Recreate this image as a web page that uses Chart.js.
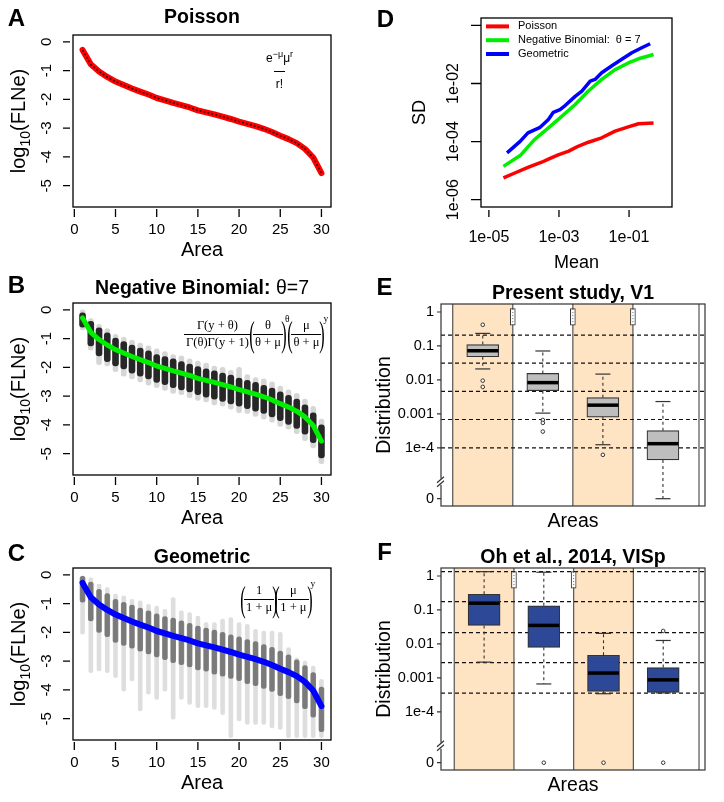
<!DOCTYPE html>
<html lang="en">
<head>
<meta charset="utf-8">
<title>FLNe distributions</title>
<script src="https://cdn.jsdelivr.net/npm/chart.js@4.4.1/dist/chart.umd.min.js"></script>
<style>
    html, body { margin: 0; padding: 0; background: #fff; }
    #figure { position: relative; width: 724px; height: 802px; overflow: hidden; }
    #figure canvas { position: absolute; }
    .formula { position: absolute; color: #000; white-space: nowrap; display: flex; align-items: center; }
    .sans { font-family: "Liberation Sans", Arial, sans-serif; }
    .serif { font-family: "Liberation Serif", "Times New Roman", serif; }
    .frac { display: inline-flex; flex-direction: column; align-items: center; }
    .frac > span { padding: 0 2px; line-height: 1.25; }
    .frac > span + span { border-top: 1px solid #000; }
    .paren { display: inline-block; font-size: 36px; line-height: 1; transform: scaleX(0.45); margin: 0 -5px; }
    .formula sup { align-self: flex-start; font-size: 9.5px; margin-top: -2px; }
</style>
</head>
<body>
<div id="figure">
    <canvas id="poissonChart" width="362" height="268" style="left:0;top:0"></canvas>
    <canvas id="negbinChart" width="362" height="265" style="left:0;top:268px"></canvas>
    <canvas id="geomChart" width="362" height="269" style="left:0;top:533px"></canvas>
    <canvas id="sdChart" width="362" height="268" style="left:362px;top:0"></canvas>
    <canvas id="v1Chart" width="362" height="265" style="left:362px;top:268px"></canvas>
    <canvas id="ohChart" width="362" height="269" style="left:362px;top:533px"></canvas>

    <div class="formula sans" style="left:264px;top:49px;font-size:12px">
        <span class="frac" style="min-width:31px"><span style="padding-bottom:5px">e<sup style="font-size:9px">−μ</sup>μ<sup style="font-size:9px">r</sup></span><span style="padding-top:5px">r!</span></span>
    </div>
    <div class="formula serif" style="left:184px;top:316px;font-size:12.5px">
        <span class="frac"><span>Γ(y + θ)</span><span>Γ(θ)Γ(y + 1)</span></span>
        <span class="paren">(</span><span class="frac"><span>θ</span><span>θ + μ</span></span><span class="paren">)</span><sup>θ</sup>
        <span class="paren">(</span><span class="frac"><span>μ</span><span>θ + μ</span></span><span class="paren">)</span><sup>y</sup>
    </div>
    <div class="formula serif" style="left:242px;top:581px;font-size:12.5px">
        <span class="paren">(</span><span class="frac"><span>1</span><span>1 + μ</span></span><span class="paren">)</span>
        <span class="paren">(</span><span class="frac"><span>μ</span><span>1 + μ</span></span><span class="paren">)</span><sup>y</sup>
    </div>
</div>
<script>
// ---- panels A-C: log10(FLNe) by area rank ----
const areas = [1, 2, 3, 4, 5, 6, 7, 8, 9, 10, 11, 12, 13, 14, 15, 16, 17, 18, 19, 20, 21, 22, 23, 24, 25, 26, 27, 28, 29, 30];
const areaTicks = [0, 5, 10, 15, 20, 25, 30];
const flneTicks = [0, -1, -2, -3, -4, -5];
const fittedFLNe = [-0.28, -0.78, -1.03, -1.22, -1.38, -1.5, -1.62, -1.73, -1.83, -1.95, -2.03, -2.12, -2.2, -2.28, -2.38, -2.45, -2.52, -2.6, -2.68, -2.77, -2.85, -2.93, -3.02, -3.13, -3.26, -3.38, -3.52, -3.72, -4.02, -4.56];

const nbDenseHi = [-0.1, -0.4, -0.62, -0.8, -0.98, -1.1, -1.22, -1.33, -1.42, -1.55, -1.62, -1.7, -1.8, -1.88, -1.97, -2.05, -2.12, -2.2, -2.27, -2.37, -2.45, -2.52, -2.62, -2.72, -2.85, -2.97, -3.1, -3.3, -3.58, -4.0];
const nbDenseLo = [-0.6, -1.25, -1.6, -1.8, -1.95, -2.05, -2.2, -2.3, -2.4, -2.52, -2.6, -2.7, -2.78, -2.85, -2.95, -3.03, -3.1, -3.18, -3.27, -3.35, -3.43, -3.52, -3.6, -3.72, -3.85, -3.98, -4.12, -4.32, -4.62, -5.15];
const nbTailHi = [0.0, -0.3, -0.5, -0.65, -0.85, -0.95, -1.05, -1.15, -1.25, -1.35, -1.45, -1.55, -1.6, -1.7, -1.78, -1.85, -1.95, -2.0, -2.1, -2.0, -2.25, -2.35, -2.4, -2.5, -2.65, -2.78, -2.9, -3.1, -3.35, -3.8];
const nbTailLo = [-0.7, -1.4, -1.9, -1.95, -2.15, -2.3, -2.4, -2.5, -2.62, -2.7, -2.8, -2.9, -2.95, -3.05, -3.15, -3.2, -3.3, -3.35, -3.45, -3.57, -3.6, -3.7, -3.8, -3.9, -4.05, -4.15, -4.3, -4.55, -4.8, -5.35];

const geoDenseHi = [-0.05, -0.25, -0.5, -0.65, -0.85, -0.95, -1.05, -1.15, -1.25, -1.35, -1.45, -1.5, -1.6, -1.68, -1.78, -1.85, -1.92, -2.0, -2.08, -2.15, -2.25, -2.32, -2.42, -2.52, -2.65, -2.78, -2.95, -3.15, -3.4, -3.9];
const geoDenseLo = [-0.95, -1.6, -2.0, -2.15, -2.35, -2.45, -2.55, -2.65, -2.75, -2.85, -2.95, -3.05, -3.12, -3.2, -3.3, -3.35, -3.45, -3.52, -3.6, -3.68, -3.78, -3.85, -3.95, -4.05, -4.2, -4.3, -4.45, -4.65, -4.95, -5.45];
const geoTailHi = [-0.03, -0.1, -0.32, -0.44, -0.67, -0.73, -0.85, -0.9, -1.02, -1.08, -1.2, -0.79, -1.25, -1.31, -1.43, -1.66, -1.66, -1.54, -1.48, -1.66, -1.72, -1.89, -1.95, -1.95, -2.0, -2.53, -2.88, -3.0, -3.17, -3.63];
const geoTailLo = [-2.06, -3.4, -3.34, -3.4, -3.57, -4.04, -3.69, -4.73, -4.15, -4.33, -4.04, -5.02, -4.33, -4.5, -4.62, -4.62, -4.68, -4.86, -5.66, -5.08, -5.2, -5.2, -5.2, -5.32, -5.37, -5.66, -5.66, -5.66, -5.66, -5.66];

// ---- panel D: SD against mean ----
const poissonMean = [2.6e-5, 5.5e-5, 1.3e-4, 3.2e-4, 5.0e-4, 9.5e-4, 1.9e-3, 3.5e-3, 6.9e-3, 0.0166, 0.04, 0.095, 0.186, 0.5];
const poissonSD = [5.6e-6, 8.3e-6, 1.3e-5, 1.95e-5, 2.5e-5, 3.5e-5, 4.7e-5, 6.9e-5, 9.5e-5, 1.35e-4, 2.3e-4, 3.2e-4, 4.1e-4, 4.4e-4];
const nbMean = [2.6e-5, 7.8e-5, 2.0e-4, 5.0e-4, 1.2e-3, 2.9e-3, 6.9e-3, 0.0166, 0.04, 0.095, 0.186, 0.5];
const nbSD = [1.4e-5, 3.3e-5, 1.17e-4, 2.95e-4, 7.4e-4, 1.9e-3, 5.5e-3, 0.0138, 0.03, 0.051, 0.071, 0.1];
const geoMean = [3.3e-5, 7.8e-5, 1.3e-4, 2.9e-4, 5.0e-4, 6.9e-4, 1.07e-3, 1.5e-3, 2.9e-3, 4.5e-3, 7.8e-3, 0.0107, 0.0166, 0.0316, 0.062, 0.12, 0.23, 0.4];
const geoSD = [4.1e-5, 1.02e-4, 2.0e-4, 3.1e-4, 5.8e-4, 1.02e-3, 1.26e-3, 1.74e-3, 3.6e-3, 5.5e-3, 0.012, 0.0138, 0.0234, 0.04, 0.068, 0.115, 0.17, 0.234];
const meanTicks = [1e-5, 1e-3, 1e-1];
const meanTickLabels = ['1e-05', '1e-03', '1e-01'];
const sdTicks = [1e-6, 1e-4, 1e-2, 1];
const sdTickLabels = ['1e-06', '1e-04', '1e-02', ''];

// ---- panels E-F: distributions per area class ----
const boxAreas = [1, 2, 3, 4];
const distTicks = [1, 0.1, 0.01, 0.001, 1e-4, 0];
const distTickLabels = ['1', '0.1', '0.01', '0.001', '1e-4', '0'];
const shadedBands = [[0.5, 1.5], [2.5, 3.5]];
const bandEdges = [0.5, 1.5, 2.5, 3.5, 4.6];
const axisBreak = 1e-5;

const v1Lower = [0.021, 0.00105, 0.000123, 0];
const v1Q1 = [0.048, 0.0048, 0.0008, 0.0000437];
const v1Median = [0.072, 0.0083, 0.0018, 0.000132];
const v1Q3 = [0.11, 0.0155, 0.003, 0.00032];
const v1Upper = [0.234, 0.071, 0.0148, 0.0023];
const v1OutlierArea = [1, 1, 1, 2, 2, 2, 3];
const v1OutlierValue = [0.42, 0.0095, 0.0062, 0.00066, 0.00054, 0.0003, 0.000062];
const v1Thresholds = [0.209, 0.031, 0.0046, 0.00068, 0.0001];
const v1NarrowAt = [1.5, 2.5, 3.5];
const v1NarrowLo = [0.41, 0.41, 0.41];
const v1NarrowHi = [1.26, 1.26, 1.26];

const ohLower = [0.0029, 0.00066, 0.00034, 0.00036];
const ohQ1 = [0.035, 0.0079, 0.0004, 0.00037];
const ohMedian = [0.158, 0.035, 0.00138, 0.00087];
const ohQ3 = [0.29, 0.132, 0.0046, 0.002];
const ohUpper = [1.34, 1.29, 0.0204, 0.0126];
const ohOutlierArea = [2, 3, 4, 4];
const ohOutlierValue = [0, 0, 0.024, 0];
const ohThresholds = [1.34, 0.176, 0.0214, 0.0028, 0.000355];
const ohNarrowAt = [1.5, 2.5];
const ohNarrowLo = [0.44, 0.44];
const ohNarrowHi = [1.35, 1.35];

const FONT = '"Liberation Sans", Arial, Helvetica, sans-serif';
const ZERO_POS = -5.5;
const toAxis = (v) => (v === 0 ? ZERO_POS : Math.log10(v));

function drawText(ctx, text, x, y, size, o = {}) {
    ctx.save();
    ctx.font = `${o.bold ? 'bold ' : ''}${size}px ${FONT}`;
    ctx.fillStyle = '#000';
    ctx.textAlign = o.align || 'center';
    ctx.textBaseline = 'middle';
    ctx.translate(x, y);
    if (o.vertical) ctx.rotate(-Math.PI / 2);
    ctx.fillText(text, 0, 0);
    ctx.restore();
}

// text made of several runs (bold part, subscript...), centred on cx, cy
function drawRuns(ctx, runs, cx, cy, vertical) {
    ctx.save();
    ctx.translate(cx, cy);
    if (vertical) ctx.rotate(-Math.PI / 2);
    ctx.fillStyle = '#000';
    ctx.textBaseline = 'alphabetic';
    const fontOf = (r) => `${r.bold ? 'bold ' : ''}${r.size}px ${FONT}`;
    let total = 0;
    const widths = runs.map((r) => {
        ctx.font = fontOf(r);
        const w = ctx.measureText(r.text).width;
        total += w;
        return w;
    });
    const base = runs[0].size * 0.36;
    let x = -total / 2;
    runs.forEach((r, i) => {
        ctx.font = fontOf(r);
        ctx.fillText(r.text, x, base + (r.dy || 0));
        x += widths[i];
    });
    ctx.restore();
}

function flneDecor(letter, letterY, titleRuns, titleY) {
    return {
        id: 'flneDecor',
        afterDatasetsDraw(chart) {
            const { ctx, chartArea: a, scales: { x, y } } = chart;
            ctx.save();
            ctx.strokeStyle = '#000';
            ctx.lineWidth = 1.3;
            ctx.strokeRect(a.left, a.top, a.right - a.left, a.bottom - a.top);
            ctx.beginPath();
            areaTicks.forEach((v) => {
                const px = x.getPixelForValue(v);
                ctx.moveTo(px, a.bottom + 2);
                ctx.lineTo(px, a.bottom + 10);
            });
            flneTicks.forEach((v) => {
                const py = y.getPixelForValue(v);
                ctx.moveTo(a.left - 10, py);
                ctx.lineTo(a.left - 3, py);
            });
            ctx.stroke();
            ctx.restore();

            areaTicks.forEach((v) => drawText(ctx, String(v), x.getPixelForValue(v), a.bottom + 23, 15));
            flneTicks.forEach((v) => drawText(ctx, String(v), a.left - 26, y.getPixelForValue(v), 15, { vertical: true }));
            drawText(ctx, 'Area', (a.left + a.right) / 2, a.bottom + 43, 20);
            drawRuns(ctx, [
                { text: 'log', size: 20 },
                { text: '10', size: 14, dy: 5 },
                { text: '(FLNe)', size: 20 },
            ], 18, (a.top + a.bottom) / 2, true);
            drawRuns(ctx, titleRuns, (a.left + a.right) / 2, titleY);
            drawText(ctx, letter, 16.5, letterY, 24, { bold: true });
        },
    };
}

function columnBars(lo, hi, color, width) {
    return {
        type: 'bar',
        data: areas.map((a, i) => ({ x: a, y: [lo[i], hi[i]] })),
        backgroundColor: color,
        barThickness: width,
        borderRadius: width / 2,
        borderSkipped: false,
        borderWidth: 0,
        stack: 'cols',
        order: 3,
    };
}

function fitLine(color, width) {
    return {
        type: 'line',
        data: areas.map((a, i) => ({ x: a, y: fittedFLNe[i] })),
        borderColor: color,
        borderWidth: width,
        pointRadius: 0,
        fill: false,
        tension: 0,
        borderCapStyle: 'round',
        borderJoinStyle: 'round',
        order: 1,
    };
}

function flneChart(id, datasets, decor) {
    const canvas = document.getElementById(id);
    return new Chart(canvas, {
        type: 'bar',
        data: { datasets },
        options: {
            responsive: false,
            animation: false,
            events: [],
            devicePixelRatio: 1,
            layout: { padding: { left: 73, top: 35, right: 31, bottom: canvas.height - 207 } },
            plugins: { legend: { display: false }, tooltip: { enabled: false } },
            scales: {
                x: { type: 'linear', min: -0.16, max: 31.16, offset: false, display: false },
                y: { type: 'linear', min: -5.74, max: 0.24, stacked: false, display: false },
            },
        },
        plugins: [decor],
    });
}

// A: Poisson
flneChart('poissonChart', [
    fitLine('#ff0000', 6),
    Object.assign(fitLine('rgba(0,0,0,0.75)', 1.6), { borderDash: [2, 2], order: 0, borderCapStyle: 'butt' }),
], flneDecor('A', 19, [{ text: 'Poisson', size: 19.5, bold: true }], 16));

// B: negative binomial
flneChart('negbinChart', [
    columnBars(nbTailLo, nbTailHi, 'rgba(0,0,0,0.16)', 5),
    columnBars(nbDenseLo, nbDenseHi, 'rgba(0,0,0,0.82)', 6),
    fitLine('#00ee00', 5),
], flneDecor('B', 18.5, [
    { text: 'Negative Binomial:', size: 19.5, bold: true },
    { text: ' θ=7', size: 19.5 },
], 18.5));

// C: geometric
flneChart('geomChart', [
    columnBars(geoTailLo, geoTailHi, 'rgba(0,0,0,0.13)', 4),
    columnBars(geoDenseLo, geoDenseHi, 'rgba(0,0,0,0.45)', 5),
    fitLine('#0000ff', 6),
], flneDecor('C', 21.5, [{ text: 'Geometric', size: 19.5, bold: true }], 22.5));

// D: SD vs mean
const sdDecor = {
    id: 'sdDecor',
    afterDatasetsDraw(chart) {
        const { ctx, chartArea: a, scales: { x, y } } = chart;
        ctx.save();
        ctx.strokeStyle = '#000';
        ctx.lineWidth = 1.3;
        ctx.strokeRect(a.left, a.top, a.right - a.left, a.bottom - a.top);
        ctx.beginPath();
        meanTicks.forEach((v) => {
            const px = x.getPixelForValue(v);
            ctx.moveTo(px, a.bottom + 3);
            ctx.lineTo(px, a.bottom + 10);
        });
        sdTicks.forEach((v) => {
            const py = y.getPixelForValue(v);
            ctx.moveTo(a.left - 10, py);
            ctx.lineTo(a.left, py);
        });
        ctx.stroke();

        // legend, top-left inside the box
        chart.data.datasets.forEach((ds, i) => {
            const ly = a.top + 8.4 + i * 13.8;
            ctx.strokeStyle = ds.borderColor;
            ctx.lineWidth = 4;
            ctx.beginPath();
            ctx.moveTo(a.left + 5, ly);
            ctx.lineTo(a.left + 28, ly);
            ctx.stroke();
            drawText(ctx, ds.label, a.left + 37, ly, 11, { align: 'left' });
        });
        ctx.restore();

        meanTicks.forEach((v, i) => drawText(ctx, meanTickLabels[i], x.getPixelForValue(v), a.bottom + 31, 16));
        sdTicks.forEach((v, i) => drawText(ctx, sdTickLabels[i], a.left - 27.5, y.getPixelForValue(v), 16, { vertical: true }));
        drawText(ctx, 'Mean', (a.left + a.right) / 2, a.bottom + 56, 18);
        drawText(ctx, 'SD', a.left - 61, (a.top + a.bottom) / 2, 18, { vertical: true });
        drawText(ctx, 'D', 23.5, 20, 24, { bold: true });
    },
};

const sdLine = (label, means, sds, color) => ({
    label,
    data: means.map((m, i) => ({ x: m, y: sds[i] })),
    borderColor: color,
    borderWidth: 3.5,
    pointRadius: 0,
    tension: 0,
    fill: false,
    borderJoinStyle: 'round',
});

new Chart(document.getElementById('sdChart'), {
    type: 'line',
    data: {
        datasets: [
            sdLine('Poisson', poissonMean, poissonSD, '#ff0000'),
            sdLine('Negative Binomial:  θ = 7', nbMean, nbSD, '#00ee00'),
            sdLine('Geometric', geoMean, geoSD, '#0000ff'),
        ],
    },
    options: {
        responsive: false,
        animation: false,
        events: [],
        devicePixelRatio: 1,
        layout: { padding: { left: 119, top: 18, right: 52, bottom: 61 } },
        plugins: { legend: { display: false }, tooltip: { enabled: false } },
        scales: {
            x: { type: 'logarithmic', min: 5.96e-6, max: 1.68, display: false },
            y: { type: 'logarithmic', min: 5.6e-7, max: 1.8, display: false },
        },
    },
    plugins: [sdDecor],
});

// E-F: box plots on a broken log axis
function distDecor(letter, title, thresholds) {
    return {
        id: 'distDecor',
        beforeDatasetsDraw(chart) {
            const { ctx, chartArea: a, scales: { x, y } } = chart;
            ctx.save();
            ctx.fillStyle = '#ffe4c4';
            shadedBands.forEach(([l, r]) => {
                const x0 = x.getPixelForValue(l);
                const x1 = x.getPixelForValue(r);
                ctx.fillRect(x0, a.top, x1 - x0, a.bottom - a.top);
            });
            ctx.strokeStyle = '#555';
            ctx.lineWidth = 1.2;
            ctx.beginPath();
            bandEdges.forEach((v) => {
                const px = x.getPixelForValue(v);
                ctx.moveTo(px, a.top);
                ctx.lineTo(px, a.bottom);
            });
            ctx.stroke();
            ctx.strokeStyle = '#111';
            ctx.lineWidth = 1.2;
            ctx.setLineDash([4, 3]);
            ctx.beginPath();
            thresholds.forEach((v) => {
                const py = y.getPixelForValue(toAxis(v));
                ctx.moveTo(a.left, py);
                ctx.lineTo(a.right, py);
            });
            ctx.stroke();
            ctx.restore();
        },
        afterDatasetsDraw(chart) {
            const { ctx, chartArea: a, scales: { y } } = chart;
            ctx.save();
            ctx.strokeStyle = '#333';
            ctx.lineWidth = 1.2;
            ctx.strokeRect(a.left, a.top, a.right - a.left, a.bottom - a.top);
            ctx.beginPath();
            distTicks.forEach((v) => {
                const py = y.getPixelForValue(toAxis(v));
                ctx.moveTo(a.left - 4, py);
                ctx.lineTo(a.left, py);
            });
            ctx.stroke();
            // axis break
            const by = y.getPixelForValue(toAxis(axisBreak));
            ctx.fillStyle = '#fff';
            ctx.fillRect(a.left - 2, by - 3, 4, 6);
            ctx.beginPath();
            ctx.moveTo(a.left - 4, by + 1);
            ctx.lineTo(a.left + 3, by - 5);
            ctx.moveTo(a.left - 4, by + 5);
            ctx.lineTo(a.left + 3, by - 1);
            ctx.stroke();
            ctx.restore();

            distTicks.forEach((v, i) => drawText(ctx, distTickLabels[i], a.left - 7, y.getPixelForValue(toAxis(v)), 14.5, { align: 'right' }));
            drawText(ctx, 'Areas', (a.left + a.right) / 2, a.bottom + 16, 19.5);
            drawText(ctx, 'Distribution', a.left - 56, (a.top + a.bottom) / 2, 19.5, { vertical: true });
            drawRuns(ctx, [{ text: title, size: 19.5, bold: true }], (a.left + a.right) / 2, a.top - 12.5);
            drawText(ctx, letter, 22.5, 20.5, 24, { bold: true });
        },
    };
}

function distChart(id, s, decor, xMin, top) {
    const canvas = document.getElementById(id);
    const whiskers = [];
    boxAreas.forEach((area, i) => {
        whiskers.push({ x: area, y: toAxis(s.q3[i]) }, { x: area, y: toAxis(s.upper[i]) }, { x: area, y: null });
        whiskers.push({ x: area, y: toAxis(s.q1[i]) }, { x: area, y: toAxis(s.lower[i]) }, { x: area, y: null });
    });
    const narrowDots = [];
    s.narrowAt.forEach((at, i) => {
        narrowDots.push({ x: at, y: toAxis(s.narrowLo[i]) }, { x: at, y: toAxis(s.narrowHi[i]) }, { x: at, y: null });
    });
    const caps = [];
    boxAreas.forEach((area, i) => {
        caps.push({ x: area, y: toAxis(s.upper[i]) }, { x: area, y: toAxis(s.lower[i]) });
    });

    return new Chart(canvas, {
        type: 'bar',
        data: {
            datasets: [
                {
                    type: 'line', data: whiskers, borderColor: '#333', borderWidth: 1.1, borderDash: [3, 3],
                    pointRadius: 0, spanGaps: false, fill: false, order: 6,
                },
                {
                    type: 'bar', data: boxAreas.map((area, i) => ({ x: area, y: [toAxis(s.q1[i]), toAxis(s.q3[i])] })),
                    backgroundColor: s.fill, borderColor: '#333', borderWidth: 1.2, borderSkipped: false,
                    barThickness: 32, stack: 'boxes', order: 5,
                },
                {
                    type: 'bar', data: s.narrowAt.map((at, i) => ({ x: at, y: [toAxis(s.narrowLo[i]), toAxis(s.narrowHi[i])] })),
                    backgroundColor: '#fff', borderColor: '#333', borderWidth: 1, borderSkipped: false,
                    barThickness: 5, stack: 'boxes', order: 4,
                },
                {
                    type: 'line', data: narrowDots, borderColor: '#666', borderWidth: 1, borderDash: [1, 2],
                    pointRadius: 0, spanGaps: false, fill: false, order: 3,
                },
                {
                    type: 'scatter', data: caps, pointStyle: 'line', pointRadius: 7.5,
                    pointBorderColor: '#333', pointBorderWidth: 1.2, order: 2,
                },
                {
                    type: 'scatter', data: boxAreas.map((area, i) => ({ x: area, y: toAxis(s.median[i]) })),
                    pointStyle: 'line', pointRadius: 15.5, pointBorderColor: '#000', pointBorderWidth: 3.5, order: 1,
                },
                {
                    type: 'scatter', data: s.outlierArea.map((area, i) => ({ x: area, y: toAxis(s.outlierValue[i]) })),
                    pointStyle: 'circle', pointRadius: 1.8, pointBackgroundColor: '#fff',
                    pointBorderColor: '#333', pointBorderWidth: 1, order: 0,
                },
            ],
        },
        options: {
            responsive: false,
            animation: false,
            events: [],
            devicePixelRatio: 1,
            layout: { padding: { left: 79, top, right: 11, bottom: canvas.height - top - 202 } },
            plugins: { legend: { display: false }, tooltip: { enabled: false } },
            scales: {
                x: { type: 'linear', min: xMin, max: 4.7, offset: false, display: false },
                y: { type: 'linear', min: -5.715, max: 0.235, stacked: false, display: false },
            },
        },
        plugins: [decor],
    });
}

distChart('v1Chart', {
    lower: v1Lower, q1: v1Q1, median: v1Median, q3: v1Q3, upper: v1Upper,
    outlierArea: v1OutlierArea, outlierValue: v1OutlierValue,
    narrowAt: v1NarrowAt, narrowLo: v1NarrowLo, narrowHi: v1NarrowHi, fill: '#bebebe',
}, distDecor('E', 'Present study, V1', v1Thresholds), 0.305, 36);

distChart('ohChart', {
    lower: ohLower, q1: ohQ1, median: ohMedian, q3: ohQ3, upper: ohUpper,
    outlierArea: ohOutlierArea, outlierValue: ohOutlierValue,
    narrowAt: ohNarrowAt, narrowLo: ohNarrowLo, narrowHi: ohNarrowHi, fill: '#2d4896',
}, distDecor('F', 'Oh et al., 2014, VISp', ohThresholds), 0.278, 35);
</script>
</body>
</html>
